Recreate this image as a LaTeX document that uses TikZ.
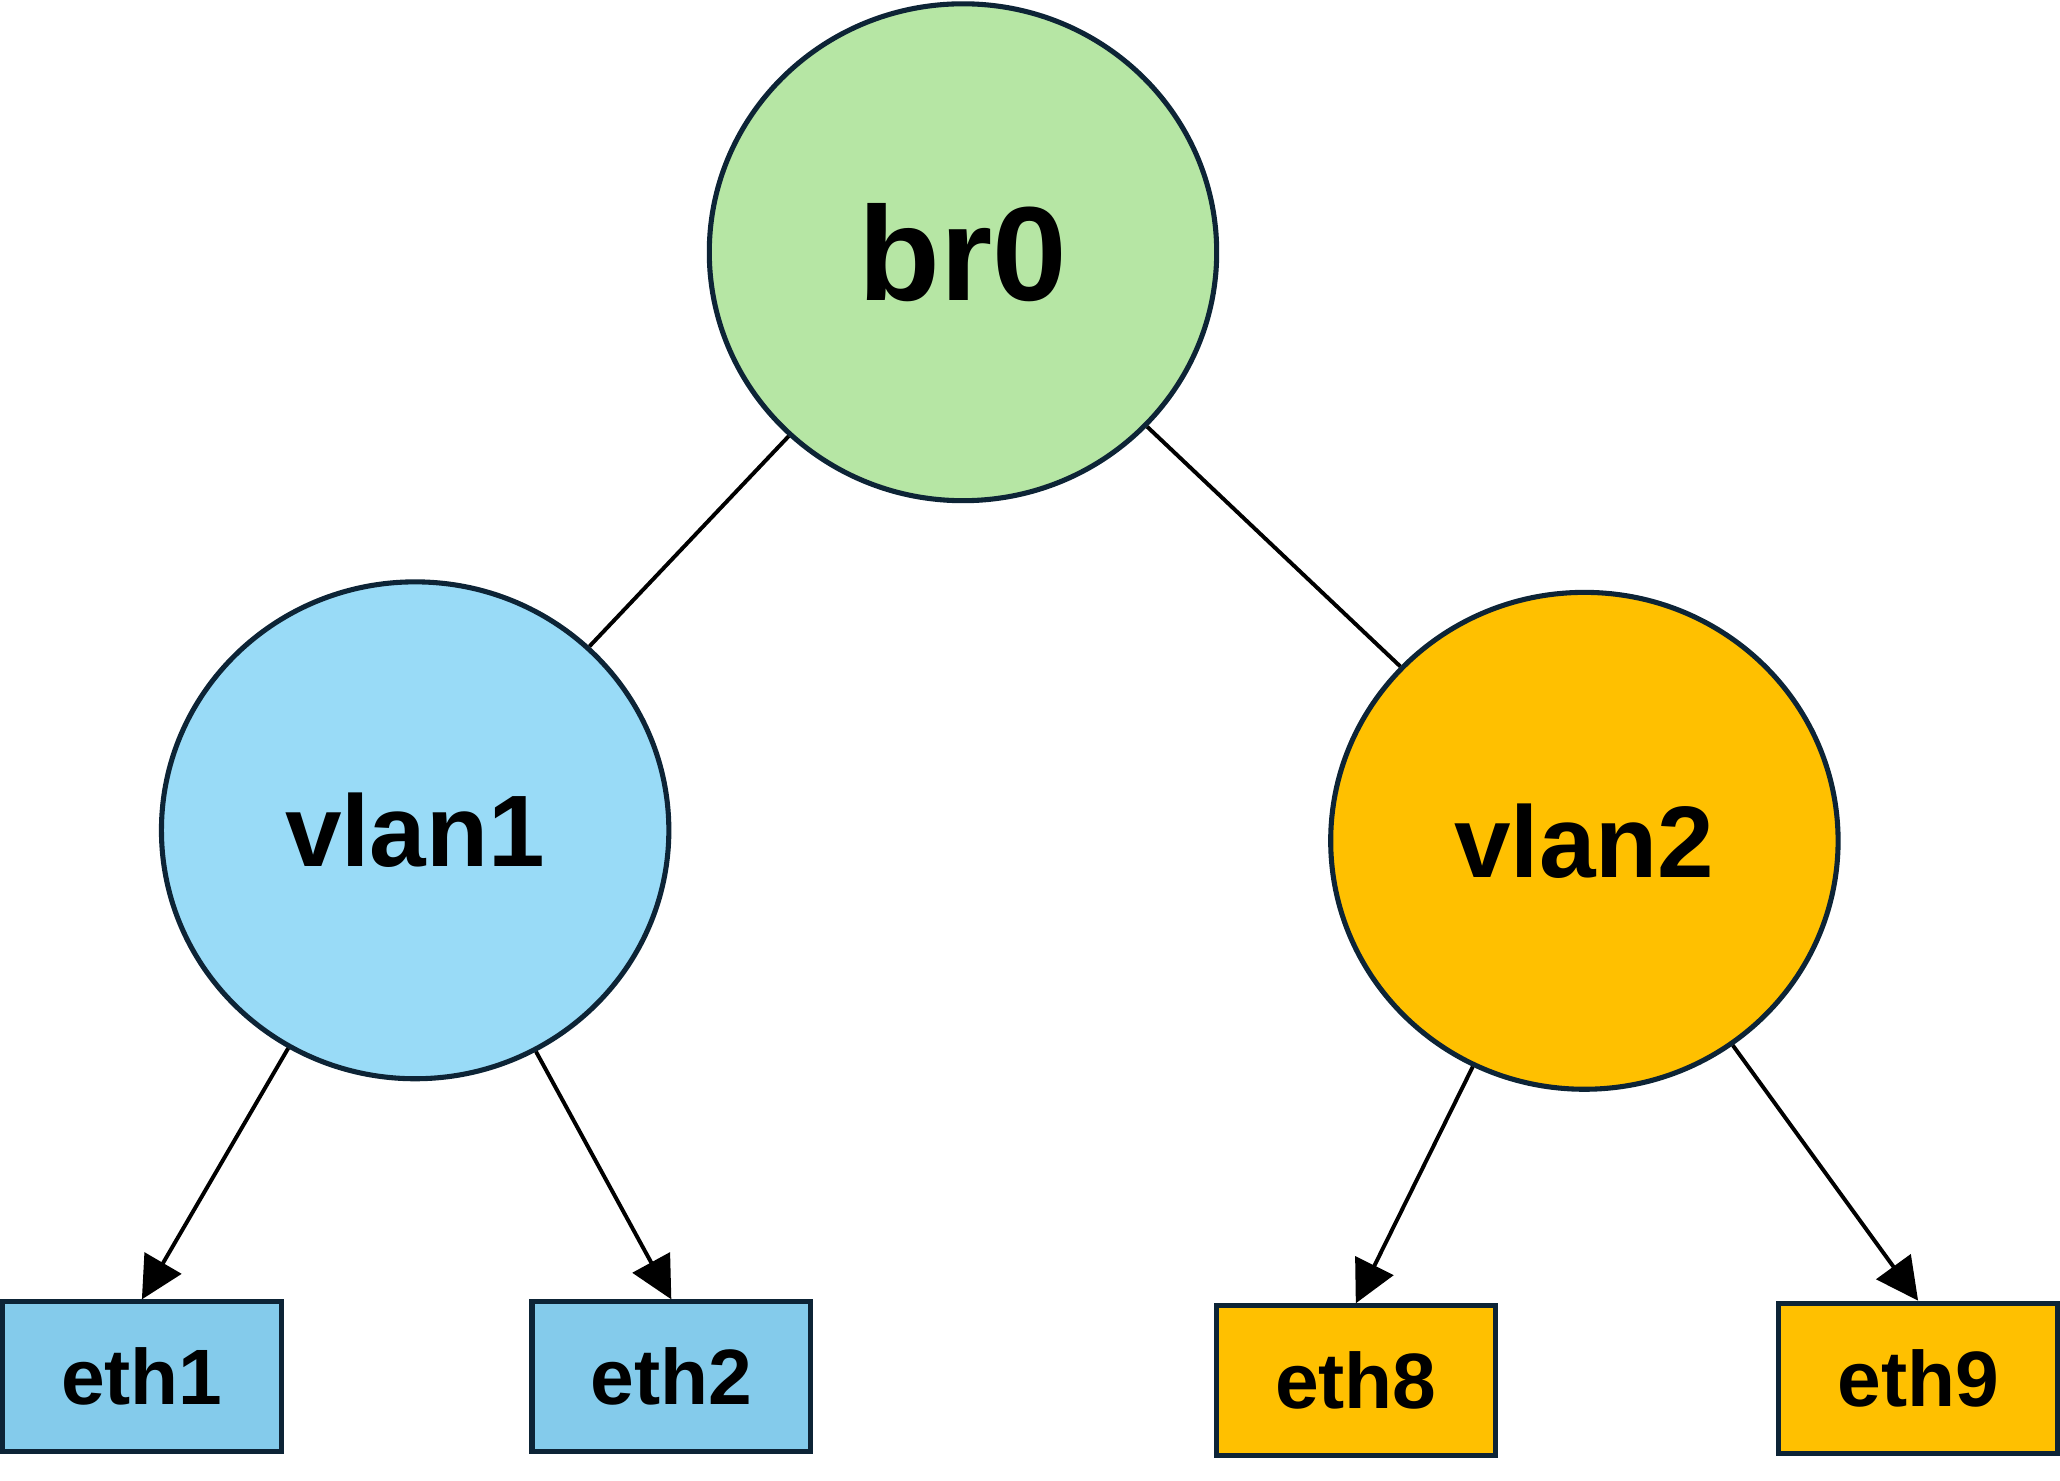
\documentclass[tikz,border=0pt]{standalone}
\usepackage{fontspec}
\setmainfont{Liberation Sans}
\usetikzlibrary{shapes.geometric,arrows.meta}
\definecolor{bord}{HTML}{0D2436}
\definecolor{cgreen}{HTML}{B6E6A4}
\definecolor{cblue}{HTML}{99DBF7}
\definecolor{cbox}{HTML}{84CBEB}
\definecolor{corange}{HTML}{FFC000}
\tikzset{
  bignode/.style={ellipse,draw=bord,line width=1.1pt,minimum width=3.86cm,minimum height=3.78cm,font=\fontsize{22}{24}\selectfont\bfseries},
  leaf/.style={rectangle,draw=bord,line width=1.1pt,minimum width=2.12cm,minimum height=1.14cm,font=\fontsize{17}{19}\selectfont\bfseries},
  link/.style={draw=black,line width=0.85pt},
  arr/.style={link,-{Triangle[length=0.32cm,width=0.32cm]}}
}
\begin{document}
\begin{tikzpicture}[x=0.01cm,y=-0.01cm]
\useasboundingbox (0,0) rectangle (1568,1127);
\node[bignode,fill=cgreen,font=\fontsize{29}{31}\selectfont\bfseries] (br0) at (733,192) {br0};
\node[bignode,fill=cblue] (vlan1) at (316,632) {vlan1};
\node[bignode,fill=corange] (vlan2) at (1206,640) {vlan2};
\node[leaf,fill=cbox] (eth1) at (108,1048) {eth1};
\node[leaf,fill=cbox] (eth2) at (511,1048) {eth2};
\node[leaf,fill=corange] (eth8) at (1032,1051) {eth8};
\node[leaf,fill=corange] (eth9) at (1460,1049) {eth9};
\draw[link] (br0) -- (vlan1);
\draw[link] (br0) -- (vlan2);
\draw[arr] (vlan1) -- (eth1.north);
\draw[arr] (vlan1) -- (eth2.north);
\draw[arr] (vlan2) -- (eth8.north);
\draw[arr] (vlan2) -- (eth9.north);
\end{tikzpicture}
\end{document}
